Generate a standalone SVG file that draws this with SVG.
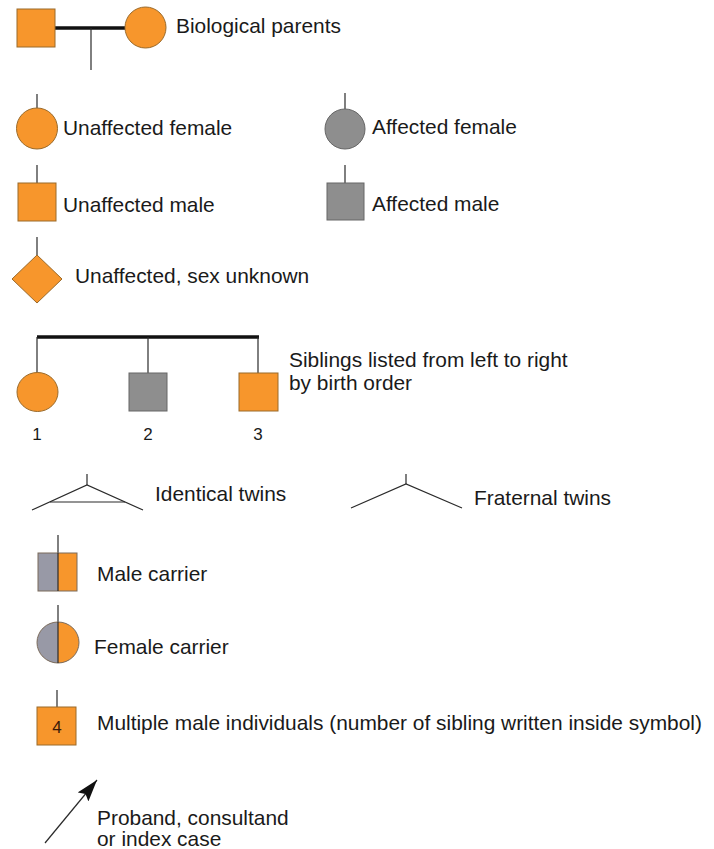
<svg xmlns="http://www.w3.org/2000/svg" width="714" height="849" viewBox="0 0 714 849">
  <style>
    .bg { fill: #ffffff; }
    .orange { fill: #f7962c; stroke: #9a6a2a; stroke-width: 1; }
    .grey { fill: #8e8e8e; stroke: #666666; stroke-width: 1; }
    .carrier-grey { fill: #9899a6; }
    .carrier-orange { fill: #f7962c; }
    .outline { fill: none; stroke: #7a6a5a; stroke-width: 1; }
    .line { fill: none; stroke: #2a2a2a; stroke-width: 1.2; }
    .thick { fill: none; stroke: #111111; stroke-width: 3.5; }
    .label { font-family: "Liberation Sans", Arial, Helvetica, sans-serif; font-size: 20.9px; fill: #1a1a1a; }
    .num { font-family: "Liberation Sans", Arial, Helvetica, sans-serif; font-size: 17px; fill: #1a1a1a; text-anchor: middle; }
  </style>
  <defs>
    <marker id="arrowhead" viewBox="0 0 22 14" refX="22" refY="7" markerWidth="22" markerHeight="14" markerUnits="userSpaceOnUse" orient="auto">
      <path d="M0,0 L22,7 L0,14 L4,7 z" fill="#111111"/>
    </marker>
  </defs>

  <rect class="bg" x="0" y="0" width="714" height="849"/>

  <!-- connector lines -->
  <g id="connectors">
    <!-- mating line and descent line -->
    <line class="thick" x1="55" y1="28" x2="125" y2="28"/>
    <line class="line" x1="91" y1="28" x2="91" y2="70"/>
    <!-- individual stems -->
    <line class="line" x1="37" y1="94" x2="37" y2="108"/>
    <line class="line" x1="345" y1="93" x2="345" y2="109"/>
    <line class="line" x1="37" y1="165" x2="37" y2="183"/>
    <line class="line" x1="345" y1="165" x2="345" y2="183"/>
    <line class="line" x1="37" y1="237" x2="37" y2="255"/>
    <!-- sibship line -->
    <line class="thick" x1="37" y1="337" x2="259" y2="337"/>
    <line class="line" x1="37" y1="337" x2="37" y2="373"/>
    <line class="line" x1="148" y1="337" x2="148" y2="373"/>
    <line class="line" x1="258" y1="337" x2="258" y2="373"/>
    <!-- carrier stems -->
    <line class="line" x1="58" y1="535" x2="58" y2="553"/>
    <line class="line" x1="58" y1="605" x2="58" y2="622"/>
    <!-- multiple individuals stem -->
    <line class="line" x1="57" y1="690" x2="57" y2="707"/>
    <!-- proband arrow -->
    <line class="line" x1="45" y1="843" x2="97" y2="780" marker-end="url(#arrowhead)"/>
  </g>

  <g id="parent-male">
    <rect class="orange" x="17" y="9" width="38" height="38"/>
  </g>
  <g id="parent-female">
    <circle class="orange" cx="145.5" cy="27.5" r="20.5"/>
  </g>
  <text class="label" x="176" y="33">Biological parents</text>

  <g id="unaffected-female">
    <circle class="orange" cx="37" cy="128.5" r="20.5"/>
    <text class="label" x="63" y="135">Unaffected female</text>
  </g>
  <g id="affected-female">
    <circle class="grey" cx="345" cy="129" r="20"/>
    <text class="label" x="372" y="134">Affected female</text>
  </g>
  <g id="unaffected-male">
    <rect class="orange" x="18" y="183" width="38" height="38"/>
    <text class="label" x="63" y="212">Unaffected male</text>
  </g>
  <g id="affected-male">
    <rect class="grey" x="327" y="183" width="37" height="37"/>
    <text class="label" x="372" y="211">Affected male</text>
  </g>
  <g id="unknown-sex">
    <polygon class="orange" points="37,255 62,279 37,303 12,279"/>
    <text class="label" x="75" y="283">Unaffected, sex unknown</text>
  </g>

  <g id="sibling-1">
    <ellipse class="orange" cx="37.5" cy="392" rx="20.5" ry="19.5"/>
    <text class="num" x="37" y="440">1</text>
  </g>
  <g id="sibling-2">
    <rect class="grey" x="129" y="373" width="38" height="38"/>
    <text class="num" x="148" y="440">2</text>
  </g>
  <g id="sibling-3">
    <rect class="orange" x="239" y="373" width="39" height="38"/>
    <text class="num" x="258" y="440">3</text>
  </g>
  <text class="label" x="289" y="367">Siblings listed from left to right</text>
  <text class="label" x="289" y="390">by birth order</text>

  <g id="identical-twins">
    <line class="line" x1="87" y1="474" x2="87" y2="485"/>
    <polyline class="line" points="32,510 87,485 143,510"/>
    <line class="line" x1="50" y1="502" x2="125" y2="502"/>
    <text class="label" x="155" y="501">Identical twins</text>
  </g>
  <g id="fraternal-twins">
    <line class="line" x1="406" y1="474" x2="406" y2="484"/>
    <polyline class="line" points="351,508 406,484 462,508"/>
    <text class="label" x="474" y="505">Fraternal twins</text>
  </g>

  <g id="male-carrier">
    <rect class="carrier-grey" x="38" y="553" width="20" height="38"/>
    <rect class="carrier-orange" x="58" y="553" width="19" height="38"/>
    <rect class="outline" x="38" y="553" width="39" height="38"/>
    <line class="line" x1="58" y1="553" x2="58" y2="591"/>
    <text class="label" x="97" y="581">Male carrier</text>
  </g>
  <g id="female-carrier">
    <path class="carrier-grey" d="M58,622 A21,20.5 0 0 0 58,663 Z"/>
    <path class="carrier-orange" d="M58,622 A21,20.5 0 0 1 58,663 Z"/>
    <ellipse class="outline" cx="58" cy="642.5" rx="21" ry="20.5"/>
    <line class="line" x1="58" y1="622" x2="58" y2="663"/>
    <text class="label" x="94" y="654">Female carrier</text>
  </g>

  <g id="multiple-males">
    <rect class="orange" x="37" y="707" width="39" height="38"/>
    <text class="num" x="57" y="733" style="fill:#3a1a0a">4</text>
    <text class="label" x="97" y="730">Multiple male individuals (number of sibling written inside symbol)</text>
  </g>

  <g id="proband">
    <text class="label" x="97" y="825">Proband, consultand</text>
    <text class="label" x="97" y="846">or index case</text>
  </g>
</svg>
